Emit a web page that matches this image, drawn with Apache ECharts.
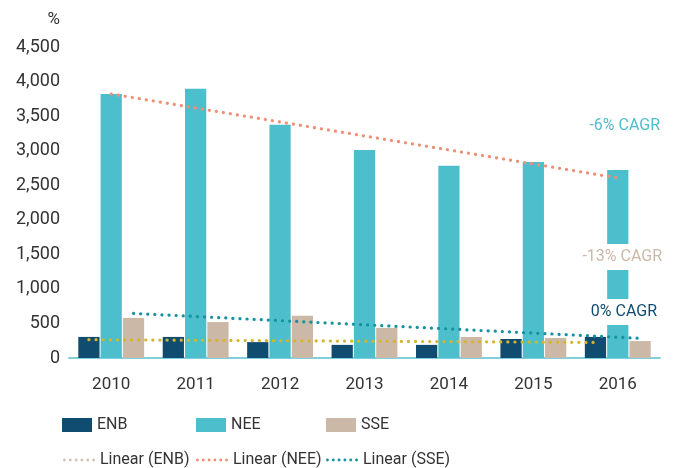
<!DOCTYPE html>
<html>
<head>
<meta charset="utf-8">
<script src="https://cdn.jsdelivr.net/npm/echarts@6/dist/echarts.min.js"></script>
<style>html,body{margin:0;padding:0;background:#fff}#c{width:677px;height:468px}</style>
</head>
<body>
<div id="c"></div>
<script>
// ---- data ----
const years = ['2010','2011','2012','2013','2014','2015','2016'];
const ENB = [305, 305, 230, 190, 190, 275, 305];
const NEE = [3820, 3895, 3375, 3010, 2780, 2835, 2720];
const SSE = [580, 520, 610, 435, 305, 290, 245];
// trend lines: [value at first year, value at last year]
const trendENB = [265, 225];
const trendNEE = [3820, 2605];
const trendSSE = [645, 285];
const yTicks = [0, 500, 1000, 1500, 2000, 2500, 3000, 3500, 4000, 4500];
const cagrLabels = ['-6% CAGR', '-13% CAGR', '0% CAGR'];
const unitLabel = '%';

// ---- style ----
const FONT = "'Roboto', sans-serif";
const C_ENB = '#0f4c70', C_NEE = '#4dbfcc', C_SSE = '#cbb8a7';
const C_TENB = '#d6b52a', C_TNEE = '#ef8f75', C_TSSE = '#16929f';
const TXT = '#333333';

const catGap = 0.22, barGapR = 0.05;
const inner = 1 - catGap;
const bw = inner / (3 + 2 * barGapR);
const off = bw * (1 + barGapR);

function trend(vals, shift) {
  const n = years.length - 1;
  return [[0 + shift, vals[0]], [n + shift, vals[1]]];
}

const dotted = (color) => ({ color: color, width: 3.2, type: [0.1, 7], cap: 'round' });

// legend icon: a row of small dots
let dotPath = 'path://';
for (let i = 0; i < 6; i++) {
  const cx = 1.5 + i * 6;
  dotPath += 'M' + (cx - 1.5) + ' 1.5a1.5 1.5 0 1 0 3 0a1.5 1.5 0 1 0 -3 0Z';
}

const chart = echarts.init(document.getElementById('c'), null, { renderer: 'canvas' });

const legendBase = (name, left, top, extra) => Object.assign({
  data: [name], left: left, top: top, itemWidth: 30, itemHeight: 14, itemGap: 0,
  textStyle: { fontFamily: FONT, fontSize: 16, color: TXT }, padding: 0
}, extra || {});

chart.setOption({
  animation: false,
  textStyle: { fontFamily: FONT },
  grid: { left: 69, right: 17, top: 47, bottom: 110 },
  xAxis: [{
    type: 'category', data: years,
    axisLine: { lineStyle: { color: '#7fd0da', width: 2 } },
    axisTick: { show: false },
    axisLabel: { fontFamily: FONT, fontSize: 17, color: TXT, margin: 18 }
  }, {
    type: 'value', min: -0.5, max: years.length - 0.5, show: false
  }],
  yAxis: {
    type: 'value', min: yTicks[0], max: yTicks[yTicks.length - 1], interval: yTicks[1] - yTicks[0],
    axisLine: { show: false }, axisTick: { show: false }, splitLine: { show: false },
    axisLabel: { fontFamily: FONT, fontSize: 18, color: TXT, margin: 9,
      formatter: v => v.toLocaleString('en-US') }
  },
  legend: [
    legendBase('ENB', 62, 417, { icon: 'rect' }),
    legendBase('NEE', 196, 417, { icon: 'rect' }),
    legendBase('SSE', 326, 417, { icon: 'rect' }),
    legendBase('Linear (ENB)', 63, 452, { itemWidth: 32, itemHeight: 3, data: [{ name: 'Linear (ENB)', icon: dotPath, itemStyle: { color: '#d2c4b4' } }] }),
    legendBase('Linear (NEE)', 196, 452, { itemWidth: 32, itemHeight: 3, data: [{ name: 'Linear (NEE)', icon: dotPath }] }),
    legendBase('Linear (SSE)', 326, 452, { itemWidth: 32, itemHeight: 3, data: [{ name: 'Linear (SSE)', icon: dotPath }] })
  ],
  series: [
    { name: 'ENB', type: 'bar', data: ENB, itemStyle: { color: C_ENB }, barGap: (barGapR * 100) + '%', barCategoryGap: (catGap * 100) + '%' },
    { name: 'NEE', type: 'bar', data: NEE, itemStyle: { color: C_NEE } },
    { name: 'SSE', type: 'bar', data: SSE, itemStyle: { color: C_SSE } },
    { name: 'Linear (ENB)', type: 'line', xAxisIndex: 1, data: trend(trendENB, -off), symbol: 'none', lineStyle: dotted(C_TENB), itemStyle: { color: C_TENB }, z: 5 },
    { name: 'Linear (NEE)', type: 'line', xAxisIndex: 1, data: trend(trendNEE, 0), symbol: 'none', lineStyle: dotted(C_TNEE), itemStyle: { color: C_TNEE }, z: 5 },
    { name: 'Linear (SSE)', type: 'line', xAxisIndex: 1, data: trend(trendSSE, off), symbol: 'none', lineStyle: dotted(C_TSSE), itemStyle: { color: C_TSSE }, z: 5 }
  ],
  graphic: [
    { type: 'text', right: 617, top: 11, z: 100, style: { text: unitLabel, fill: TXT, font: "17px " + FONT } },
    { type: 'text', right: 15, top: 113, z: 100, style: { text: cagrLabels[0], fill: C_NEE, font: "16px " + FONT, backgroundColor: '#fff', padding: [5, 2] } },
    { type: 'text', right: 13, top: 244, z: 100, style: { text: cagrLabels[1], fill: C_SSE, font: "16px " + FONT, backgroundColor: '#fff', padding: [5, 2] } },
    { type: 'text', right: 18, top: 299, z: 100, style: { text: cagrLabels[2], fill: C_ENB, font: "16px " + FONT, backgroundColor: '#fff', padding: [5, 2] } }
  ]
});
</script>
</body>
</html>
